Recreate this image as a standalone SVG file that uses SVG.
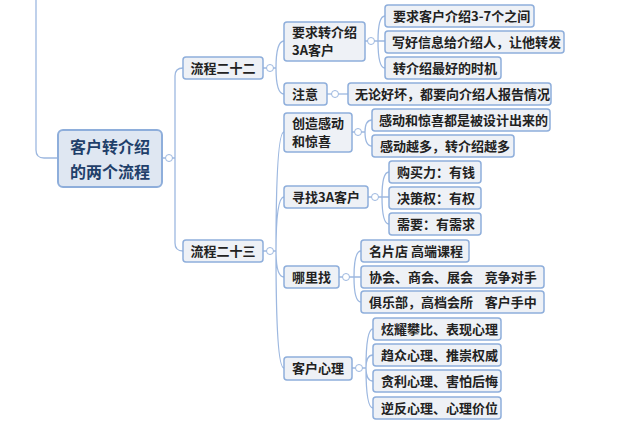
<svg xmlns="http://www.w3.org/2000/svg" width="640" height="434" viewBox="0 0 640 434">
<style>
.n rect{fill:#eef1f6;stroke:#8eaedb;stroke-width:1.5}
.n text{font-family:"Noto Sans CJK SC","Liberation Sans",sans-serif;font-size:13px;font-weight:bold;fill:#222}
.r rect{fill:#dfe7f2;stroke:#8eaedb;stroke-width:2}
.r text{font-family:"Noto Sans CJK SC",sans-serif;font-size:16px;font-weight:bold;fill:#1f3f6a}
#c path{fill:none;stroke:#9db8e0;stroke-width:1.3}
#c circle{fill:#fff;stroke:#9db8e0;stroke-width:1}
</style>
<g id="c">
<path d="M36 0V150Q36 158 44 158H58"/>
<path d="M162 158H175M175 158V76Q175 68 183 68M175 158V243Q175 251 183 251"/>
<path d="M263 68H276Q276 41 284 41M276 68Q276 94 284 94"/>
<path d="M263 251H276Q276 132 284 132M276 251Q276 197 284 197M276 251Q276 277 284 277M276 251Q276 368 284 368"/>
<path d="M365 41H378Q378 16 385 16M378 41H385M378 41Q378 68 385 68"/>
<path d="M327 94H348"/>
<path d="M352 132H365Q365 120 372 120M365 132Q365 146 372 146"/>
<path d="M368 197H382Q382 172 389 172M382 197H389M382 197Q382 224 389 224"/>
<path d="M339 277H354Q354 251 361 251M354 277H361M354 277Q354 302 361 302"/>
<path d="M352 368H366Q366 329 373 329M366 368Q366 355 373 355M366 368Q366 381 373 381M366 368Q366 408 373 408"/>
<circle cx="169" cy="158" r="3.5"/><circle cx="270" cy="68" r="3.5"/><circle cx="270" cy="251" r="3.5"/>
<circle cx="371" cy="41" r="3.5"/><circle cx="335" cy="94" r="3.5"/><circle cx="358" cy="132" r="3.5"/>
<circle cx="375" cy="197" r="3.5"/><circle cx="346" cy="277" r="3.5"/><circle cx="359" cy="368" r="3.5"/>
</g>
<g id="root" class="r"><rect x="58" y="130" width="104" height="57" rx="5"/><text x="110" y="153" text-anchor="middle">客户转介绍</text><text x="110" y="178" text-anchor="middle">的两个流程</text></g>
<g id="p22" class="n"><rect x="183" y="57" width="80" height="22" rx="3"/><text x="223" y="73" text-anchor="middle">流程二十二</text></g>
<g id="p23" class="n"><rect x="183" y="240" width="80" height="22" rx="3"/><text x="223" y="256" text-anchor="middle">流程二十三</text></g>
<g id="a1" class="n"><rect x="284" y="22" width="81" height="39" rx="3"/><text x="292" y="37">要求转介绍</text><text x="292" y="55">3A客户</text></g>
<g id="a2" class="n"><rect x="284" y="83" width="43" height="22" rx="3"/><text x="292" y="99">注意</text></g>
<g id="a3" class="n"><rect x="284" y="113" width="68" height="39" rx="3"/><text x="292" y="128">创造感动</text><text x="292" y="146">和惊喜</text></g>
<g id="a4" class="n"><rect x="284" y="186" width="84" height="22" rx="3"/><text x="292" y="202">寻找3A客户</text></g>
<g id="a5" class="n"><rect x="284" y="266" width="55" height="22" rx="3"/><text x="292" y="282">哪里找</text></g>
<g id="a6" class="n"><rect x="284" y="357" width="68" height="23" rx="3"/><text x="292" y="373">客户心理</text></g>
<g id="b1" class="n"><rect x="385" y="5" width="149" height="22" rx="3"/><text x="393" y="21">要求客户介绍3-7个之间</text></g>
<g id="b2" class="n"><rect x="385" y="31" width="179" height="22" rx="3"/><text x="392" y="47">写好信息给介绍人，让他转发</text></g>
<g id="b3" class="n"><rect x="385" y="57" width="116" height="22" rx="3"/><text x="393" y="73">转介绍最好的时机</text></g>
<g id="b4" class="n"><rect x="348" y="83" width="203" height="22" rx="3"/><text x="355" y="99">无论好坏，都要向介绍人报告情况</text></g>
<g id="b5" class="n"><rect x="372" y="109" width="178" height="22" rx="3"/><text x="379" y="125">感动和惊喜都是被设计出来的</text></g>
<g id="b6" class="n"><rect x="372" y="135" width="142" height="22" rx="3"/><text x="380" y="151">感动越多，转介绍越多</text></g>
<g id="b7" class="n"><rect x="389" y="161" width="92" height="22" rx="3"/><text x="397" y="177">购买力：有钱</text></g>
<g id="b8" class="n"><rect x="389" y="187" width="92" height="22" rx="3"/><text x="397" y="203">决策权：有权</text></g>
<g id="b9" class="n"><rect x="389" y="213" width="92" height="22" rx="3"/><text x="397" y="229">需要：有需求</text></g>
<g id="b10" class="n"><rect x="361" y="240" width="108" height="22" rx="3"/><text x="369" y="256">名片店 高端课程</text></g>
<g id="b11" class="n"><rect x="361" y="266" width="183" height="22" rx="3"/><text x="369" y="282" xml:space="preserve">协会、商会、展会    竞争对手</text></g>
<g id="b12" class="n"><rect x="361" y="291" width="183" height="22" rx="3"/><text x="369" y="307" xml:space="preserve">俱乐部，高档会所    客户手中</text></g>
<g id="b13" class="n"><rect x="373" y="318" width="128" height="22" rx="3"/><text x="381" y="334">炫耀攀比、表现心理</text></g>
<g id="b14" class="n"><rect x="373" y="344" width="128" height="22" rx="3"/><text x="381" y="360">趋众心理、推崇权威</text></g>
<g id="b15" class="n"><rect x="373" y="370" width="128" height="22" rx="3"/><text x="381" y="386">贪利心理、害怕后悔</text></g>
<g id="b16" class="n"><rect x="373" y="397" width="128" height="22" rx="3"/><text x="381" y="413">逆反心理、心理价位</text></g>
</svg>
